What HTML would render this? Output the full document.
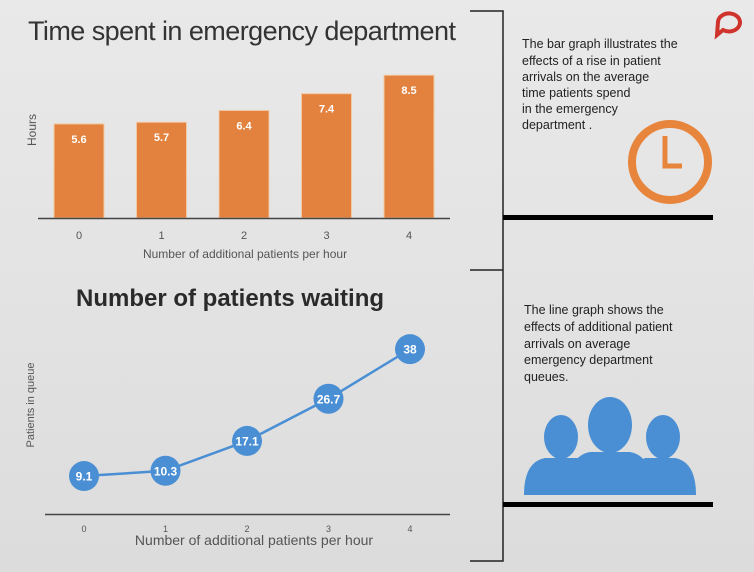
<!DOCTYPE html>
<html><head><meta charset="utf-8"><style>
body{margin:0;width:754px;height:572px;overflow:hidden;background:linear-gradient(180deg,#e9e9e9 0%,#e3e3e3 50%,#dcdcdc 100%);font-family:"Liberation Sans",sans-serif;}
svg{position:absolute;left:0;top:0}
</style></head><body>
<svg width="754" height="572">
<text x="28" y="40" font-size="27" fill="#333" textLength="428">Time spent in emergency department</text>
<text x="76" y="306" font-size="24" font-weight="bold" fill="#2a2a2a">Number of patients waiting</text>
<g id="bars"></g>
<g id="line"></g>
<text x="36" y="130" font-size="12" fill="#555" transform="rotate(-90 36 130)" text-anchor="middle">Hours</text>
<text x="245" y="258" font-size="12" fill="#555" text-anchor="middle">Number of additional patients per hour</text>
<text x="34" y="405" font-size="11" fill="#555" transform="rotate(-90 34 405)" text-anchor="middle">Patients in queue</text>
<text x="254" y="545" font-size="14" fill="#555" text-anchor="middle">Number of additional patients per hour</text>
<g stroke="#222" stroke-width="1.5" fill="none">
<path d="M470 11H503V561H470"/><path d="M470 270H503"/></g>
<rect x="503" y="215" width="210" height="5" fill="#000"/>
<rect x="503" y="502" width="210" height="5" fill="#000"/>
<g font-size="12.5" fill="#222">
<text x="522" y="48">The bar graph illustrates the</text><text x="522" y="65">effects of a rise in patient</text>
<text x="522" y="81">arrivals on the average</text><text x="522" y="97">time patients spend</text>
<text x="522" y="113">in the emergency</text><text x="522" y="129">department .</text></g>
<g font-size="12.5" fill="#222">
<text x="524" y="314">The line graph shows the</text><text x="524" y="331">effects of additional patient</text>
<text x="524" y="348">arrivals on average</text><text x="524" y="364">emergency department</text><text x="524" y="381">queues.</text></g>
<g><circle cx="670" cy="162" r="38" fill="none" stroke="#e8853d" stroke-width="8"/>
<path d="M665 136V166H682" fill="none" stroke="#e8853d" stroke-width="5"/></g>
<g fill="#4a8fd4">
<ellipse cx="561" cy="437" rx="17" ry="22"/><path d="M524 495Q524 462 545 458H577Q585 462 590 470V495Z"/>
<ellipse cx="663" cy="437" rx="17" ry="22"/><path d="M696 495Q696 462 675 458H645Q637 462 632 470V495Z"/>
<ellipse cx="610" cy="425" rx="22" ry="28"/><path d="M567 495Q567 456 590 452H630Q653 456 653 495Z"/></g>
<path d="M718 22a11 9 0 1 1 5 8l-6 5z" fill="none" stroke="#d0322c" stroke-width="4"/>
</svg>
<script>
const barCats=["0","1","2","3","4"];
const barVals=[5.6,5.7,6.4,7.4,8.5];
const lineCats=["0","1","2","3","4"];
const lineVals=[9.1,10.3,17.1,26.7,38];
const NS="http://www.w3.org/2000/svg";
function mk(t,a,p){const e=document.createElementNS(NS,t);for(const k in a)e.setAttribute(k,a[k]);p.appendChild(e);return e;}
const bx=i=>79+i*82.5, by=v=>218-v*16.8;
const gb=document.getElementById('bars');
barVals.forEach((v,i)=>{
 const r=mk('rect',{x:bx(i)-25,y:by(v),width:50,height:218-by(v),fill:'#e2823e',stroke:'#f3c8a4','stroke-width':1},gb);
 
 
 const t=mk('text',{x:bx(i),y:by(v)+19,'font-size':11,'font-weight':'bold',fill:'#fff','text-anchor':'middle'},gb);t.textContent=v;
 
 
 const k=mk('text',{x:bx(i),y:239,'font-size':11,fill:'#555','text-anchor':'middle'},gb);k.textContent=barCats[i];
 
 
});
const ax=mk('line',{x1:38,x2:450,y1:218.5,y2:218.5,stroke:'#444','stroke-width':1.5},gb);


const lx=i=>84+i*81.5, ly=v=>516-v*4.39;
const gl=document.getElementById('line');
const ax2=mk('line',{x1:45,x2:450,y1:514.5,y2:514.5,stroke:'#444','stroke-width':1.5},gl);


const pl=mk('polyline',{points:lineVals.map((v,i)=>lx(i)+','+ly(v)).join(' '),fill:'none',stroke:'#4a8fd4','stroke-width':2.5},gl);


lineVals.forEach((v,i)=>{
 const c=mk('circle',{cx:lx(i),cy:ly(v),r:15,fill:'#4a8fd4'},gl);
 
 
 const t=mk('text',{x:lx(i),y:ly(v)+4.5,'font-size':12,'font-weight':'bold',fill:'#fff','text-anchor':'middle'},gl);t.textContent=v;
 
 
 const k=mk('text',{x:lx(i),y:532,'font-size':9,fill:'#555','text-anchor':'middle'},gl);k.textContent=lineCats[i];
 
 
});
</script>
</body></html>
